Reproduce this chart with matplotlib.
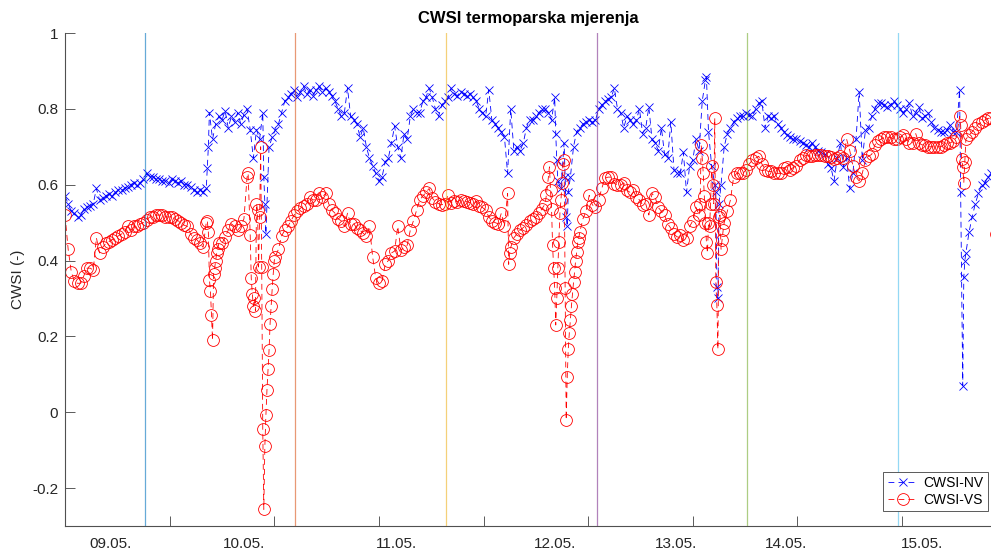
import numpy as np
from matplotlib import pyplot as plt

plt.rcParams['font.family'] = ['Liberation Sans', 'DejaVu Sans']

# base series: every 3rd record (10 min data), extra points fill the sharp dips
STEP = 3

nv_base = [
    0.57, 0.55, 0.53, 0.525, 0.515, 0.52, 0.535, 0.54, 0.545, 0.55,
    0.59, 0.56, 0.565, 0.57, 0.575, 0.57, 0.58, 0.585, 0.585, 0.59,
    0.595, 0.60, 0.605, 0.60, 0.605, 0.615, 0.63, 0.62, 0.62, 0.615,
    0.615, 0.61, 0.61, 0.605, 0.615, 0.61, 0.605, 0.61, 0.60, 0.60,
    0.595, 0.585, 0.58, 0.585, 0.58, 0.59, 0.79, 0.72, 0.76, 0.78,
    0.77, 0.795, 0.75, 0.78, 0.765, 0.79, 0.76, 0.785, 0.80, 0.745,
    0.67, 0.745, 0.72, 0.79, 0.47, 0.70, 0.725, 0.745, 0.76, 0.79,
    0.82, 0.83, 0.84, 0.85, 0.83, 0.845, 0.86, 0.84, 0.85, 0.835,
    0.85, 0.86, 0.845, 0.855, 0.845, 0.835, 0.82, 0.80, 0.78, 0.79,
    0.855, 0.78, 0.77, 0.76, 0.725, 0.75, 0.70, 0.67, 0.65, 0.63,
    0.61, 0.62, 0.66, 0.67, 0.71, 0.755, 0.70, 0.67, 0.735, 0.72,
    0.78, 0.80, 0.79, 0.79, 0.82, 0.83, 0.855, 0.83, 0.80, 0.78,
    0.81, 0.82, 0.83, 0.855, 0.84, 0.835, 0.845, 0.84, 0.835, 0.84,
    0.83, 0.82, 0.80, 0.79, 0.78, 0.85, 0.77, 0.76, 0.75, 0.74,
    0.725, 0.63, 0.80, 0.69, 0.70, 0.69, 0.71, 0.75, 0.77, 0.77,
    0.78, 0.79, 0.80, 0.80, 0.79, 0.77, 0.83, 0.61, 0.59, 0.71,
    0.49, 0.62, 0.70, 0.74, 0.75, 0.76, 0.765, 0.77, 0.765, 0.77,
    0.80, 0.81, 0.82, 0.825, 0.83, 0.855, 0.80, 0.79, 0.75, 0.78,
    0.77, 0.76, 0.77, 0.80, 0.735, 0.75, 0.805, 0.72, 0.71, 0.69,
    0.75, 0.68, 0.67, 0.765, 0.64, 0.63, 0.63, 0.685, 0.58, 0.65,
    0.665, 0.72, 0.69, 0.82, 0.875, 0.74, 0.65, 0.60, 0.30, 0.60,
    0.70, 0.735, 0.75, 0.765, 0.775, 0.78, 0.78, 0.79, 0.785, 0.78,
    0.80, 0.815, 0.82, 0.75, 0.78, 0.775, 0.78, 0.76, 0.75, 0.74,
    0.73, 0.725, 0.72, 0.72, 0.715, 0.71, 0.705, 0.70, 0.71, 0.70,
    0.69, 0.685, 0.68, 0.655, 0.645, 0.61, 0.67, 0.71, 0.647, 0.67,
    0.59, 0.63, 0.72, 0.845, 0.665, 0.745, 0.75, 0.78, 0.80, 0.815,
    0.815, 0.81, 0.805, 0.81, 0.82, 0.81, 0.80, 0.79, 0.80, 0.815,
    0.78, 0.79, 0.805, 0.775, 0.78, 0.79, 0.765, 0.75, 0.745, 0.74,
    0.74, 0.745, 0.757, 0.74, 0.74, 0.85, 0.07, 0.42, 0.475, 0.515,
    0.55, 0.577, 0.60, 0.605, 0.62, 0.63,
]
nv_extra_idx = [136, 137, 190, 191, 469, 470, 478, 479, 481,
                613, 622, 623, 625, 856, 859, 860]
nv_extra_val = [0.645, 0.70, 0.62, 0.55, 0.735, 0.665, 0.62, 0.515, 0.58,
                0.885, 0.58, 0.33, 0.55, 0.58, 0.356, 0.40]

vs_base = [
    0.52, 0.43, 0.37, 0.345, 0.34, 0.34, 0.36, 0.38, 0.38, 0.375,
    0.46, 0.42, 0.435, 0.445, 0.45, 0.455, 0.46, 0.465, 0.47, 0.475,
    0.49, 0.48, 0.49, 0.49, 0.497, 0.50, 0.507, 0.515, 0.515, 0.52,
    0.52, 0.52, 0.515, 0.515, 0.515, 0.51, 0.505, 0.50, 0.493, 0.49,
    0.47, 0.46, 0.455, 0.445, 0.435, 0.50, 0.35, 0.19, 0.40, 0.445,
    0.445, 0.462, 0.48, 0.497, 0.49, 0.48, 0.49, 0.51, 0.62, 0.467,
    0.28, 0.55, 0.515, -0.045, -0.008, 0.163, 0.325, 0.41, 0.43, 0.465,
    0.48, 0.49, 0.505, 0.52, 0.53, 0.538, 0.545, 0.55, 0.567, 0.56,
    0.56, 0.577, 0.567, 0.577, 0.55, 0.533, 0.525, 0.51, 0.505, 0.49,
    0.525, 0.497, 0.497, 0.485, 0.48, 0.472, 0.465, 0.49, 0.41, 0.353,
    0.34, 0.345, 0.39, 0.40, 0.42, 0.425, 0.49, 0.427, 0.435, 0.44,
    0.48, 0.505, 0.533, 0.56, 0.57, 0.58, 0.59, 0.565, 0.555, 0.55,
    0.547, 0.55, 0.572, 0.553, 0.557, 0.555, 0.56, 0.557, 0.555, 0.553,
    0.55, 0.557, 0.545, 0.54, 0.533, 0.515, 0.505, 0.50, 0.497, 0.525,
    0.49, 0.577, 0.435, 0.46, 0.47, 0.48, 0.487, 0.495, 0.505, 0.51,
    0.515, 0.525, 0.537, 0.55, 0.62, 0.537, 0.327, 0.38, 0.56, 0.665,
    0.093, 0.243, 0.343, 0.422, 0.475, 0.51, 0.53, 0.572, 0.547, 0.54,
    0.56, 0.59, 0.617, 0.62, 0.62, 0.603, 0.60, 0.598, 0.605, 0.585,
    0.58, 0.585, 0.567, 0.56, 0.547, 0.55, 0.52, 0.577, 0.567, 0.54,
    0.53, 0.52, 0.497, 0.485, 0.47, 0.462, 0.467, 0.453, 0.46, 0.49,
    0.505, 0.54, 0.52, 0.67, 0.50, 0.50, 0.65, 0.775, 0.166, 0.43,
    0.50, 0.53, 0.56, 0.62, 0.63, 0.63, 0.63, 0.64, 0.655, 0.665,
    0.67, 0.675, 0.655, 0.64, 0.635, 0.635, 0.63, 0.63, 0.63, 0.645,
    0.647, 0.64, 0.645, 0.65, 0.665, 0.67, 0.678, 0.675, 0.677, 0.678,
    0.678, 0.678, 0.675, 0.675, 0.672, 0.668, 0.67, 0.675, 0.67, 0.72,
    0.69, 0.65, 0.62, 0.61, 0.63, 0.665, 0.675, 0.68, 0.705, 0.715,
    0.72, 0.725, 0.725, 0.725, 0.72, 0.72, 0.725, 0.73, 0.72, 0.71,
    0.71, 0.735, 0.71, 0.705, 0.705, 0.70, 0.70, 0.70, 0.70, 0.70,
    0.705, 0.71, 0.71, 0.715, 0.725, 0.78, 0.648, 0.72, 0.73, 0.74,
    0.75, 0.76, 0.765, 0.77, 0.775, 0.775,
]
vs_extra_idx = [136, 137, 139, 140, 142, 143, 145, 146,
                175, 178, 179, 181, 182, 184, 185, 187, 188, 190, 191,
                193, 194, 196, 197, 199, 200,
                424, 425,
                460, 463, 464, 466, 467, 469, 470, 472, 473, 475, 476,
                478, 479, 481, 482, 484, 485, 487, 488, 490, 491,
                607, 608, 610, 611, 613, 614, 616, 617, 619, 620,
                622, 623, 625, 626, 628, 629,
                856, 857, 859, 860, 890]
vs_extra_val = [0.505, 0.475, 0.32, 0.256, 0.365, 0.38, 0.42, 0.43,
                0.63, 0.353, 0.313, 0.30, 0.267, 0.533, 0.383, 0.70, 0.383, -0.256, -0.089,
                0.058, 0.113, 0.234, 0.28, 0.365, 0.40,
                0.39, 0.42,
                0.572, 0.647, 0.585, 0.44, 0.38, 0.23, 0.30, 0.45, 0.525, 0.605, 0.655,
                0.327, -0.02, 0.168, 0.21, 0.28, 0.313, 0.37, 0.40, 0.448, 0.46,
                0.55, 0.705, 0.63, 0.57, 0.45, 0.42, 0.49, 0.55, 0.60, 0.55,
                0.343, 0.282, 0.515, 0.52, 0.455, 0.48,
                0.757, 0.667, 0.605, 0.66, 0.47]

# day separators (sample index) and date labels
day_lines = [76, 220, 364, 508, 652, 796]
day_colors = ['#0072BD', '#D95319', '#EDB120', '#7E2F8E', '#77AC30', '#4DBEEE']
day_labels = ['09.05.', '10.05.', '11.05.', '12.05.', '13.05.', '14.05.', '15.05.']
day_label_pos = [43, 171, 317, 468, 584, 689, 819]
sample_ticks = [100, 200, 300, 400, 500, 600, 700, 800]


def merge(base, extra_idx, extra_val):
    idx = np.concatenate([np.arange(len(base)) * STEP, extra_idx])
    val = np.concatenate([base, extra_val])
    order = np.argsort(idx, kind='stable')
    return idx[order], val[order]


nv_x, nv_y = merge(nv_base, nv_extra_idx, nv_extra_val)
vs_x, vs_y = merge(vs_base, vs_extra_idx, vs_extra_val)

fig = plt.figure(figsize=(9.91, 5.53), dpi=100)
ax = fig.add_axes([0.0656, 0.0488, 0.9344, 0.8915])

ax.plot(nv_x, nv_y, color='blue', linestyle='--', dashes=(7, 5), linewidth=0.6,
        marker='x', markersize=6, markeredgewidth=0.6, label='CWSI-NV')
ax.plot(vs_x, vs_y, color='red', linestyle='--', dashes=(7, 5), linewidth=0.6,
        marker='o', markersize=8.5, markerfacecolor='none', markeredgewidth=0.6,
        label='CWSI-VS')

for xv, c in zip(day_lines, day_colors):
    ax.axvline(xv, color=c, linewidth=0.9, alpha=0.6, zorder=3)

ax.set_xlim(0, 885)
ax.set_ylim(-0.3, 1.0)
ax.set_yticks([-0.2, 0, 0.2, 0.4, 0.6, 0.8, 1.0])
ax.set_yticklabels(['-0.2', '0', '0.2', '0.4', '0.6', '0.8', '1'])
ax.set_xticks(sample_ticks)
ax.set_xticklabels([])
ax.set_xticks(day_label_pos, minor=True)
ax.set_xticklabels(day_labels, minor=True)

ax.tick_params(axis='both', which='major', direction='in', length=7, width=0.6,
               colors='#404040', labelsize=11, labelcolor='#262626')
ax.tick_params(axis='y', pad=5)
ax.tick_params(axis='x', which='minor', length=0, pad=8, labelsize=11,
               labelcolor='#262626')

for side in ['top', 'right']:
    ax.spines[side].set_visible(False)
for side in ['left', 'bottom']:
    ax.spines[side].set_color('#505050')
    ax.spines[side].set_linewidth(0.8)

ax.set_title('CWSI termoparska mjerenja', fontsize=12, fontweight='bold', pad=7)
ax.set_ylabel('CWSI (-)', fontsize=11, color='#262626')
ax.yaxis.set_label_coords(-0.043, 0.5)

leg = ax.legend(loc='lower right', bbox_to_anchor=(0.9968, 0.0304), borderaxespad=0,
                fontsize=10, handlelength=2.2, handletextpad=0.4, borderpad=0.3,
                labelspacing=0.2, fancybox=False, framealpha=1, edgecolor='#404040')
leg.get_frame().set_linewidth(0.6)

fig.savefig('out.png', dpi=100)
